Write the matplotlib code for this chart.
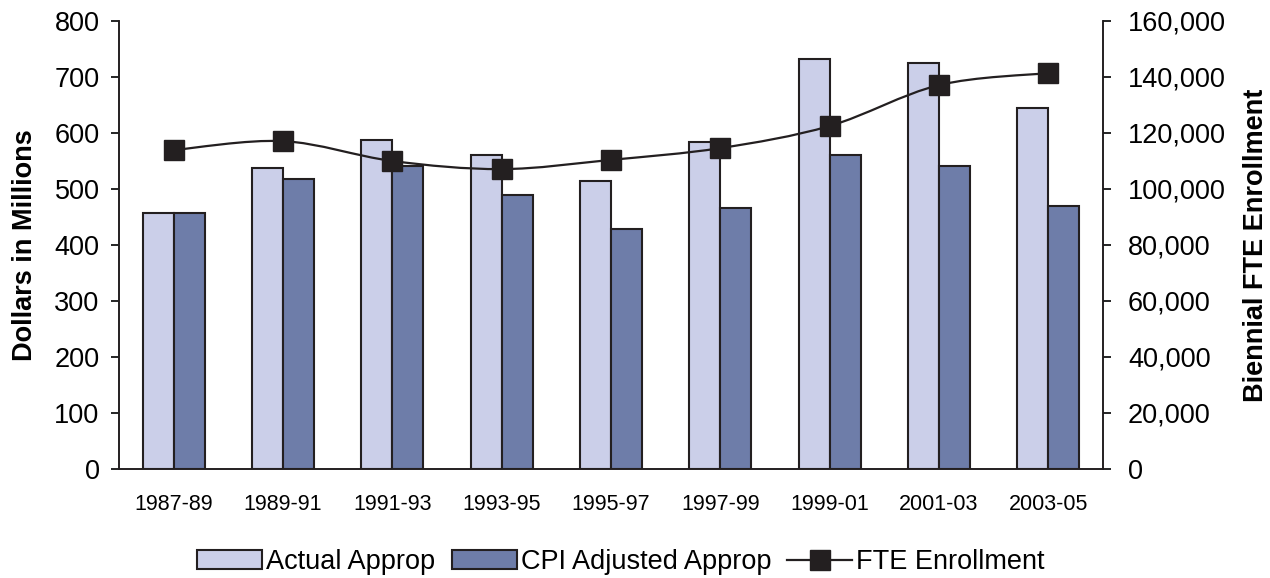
import numpy as np
import matplotlib
matplotlib.use("Agg")
import matplotlib.pyplot as plt
from matplotlib.path import Path
from matplotlib.patches import PathPatch, Patch
from matplotlib.lines import Line2D
from matplotlib.ticker import FuncFormatter

plt.rcParams['font.family'] = ['Liberation Sans', 'DejaVu Sans']

years = ["1987-89", "1989-91", "1991-93", "1993-95", "1995-97",
         "1997-99", "1999-01", "2001-03", "2003-05"]
actual = [458, 537, 587, 561, 514, 584, 732, 725, 645]
cpi_adj = [458, 518, 541, 489, 429, 466, 561, 541, 470]
fte = [113900, 117100, 110000, 107100, 110400, 114600, 122500, 137100, 141400]

c_light = "#CBCFE9"
c_dark = "#6E7DA9"
c_line = "#231F20"


def _smooth_path(xs, ys):
    """Catmull-Rom 转 Bezier，模拟 Excel 平滑线。"""
    pts = np.column_stack([xs, ys]).astype(float)
    verts = [pts[0]]
    codes = [Path.MOVETO]
    n = len(pts)
    for i in range(n - 1):
        p0 = pts[i - 1] if i > 0 else pts[i]
        p1, p2 = pts[i], pts[i + 1]
        p3 = pts[i + 2] if i + 2 < n else pts[i + 1]
        c1 = p1 + (p2 - p0) / 6.0
        c2 = p2 - (p3 - p1) / 6.0
        verts += [c1, c2, p2]
        codes += [Path.CURVE4] * 3
    return Path(verts, codes)


fig = plt.figure(figsize=(12.7, 5.78), dpi=100)
ax = fig.add_axes([0.0937, 0.1886, 0.7748, 0.7751])
ax2 = ax.twinx()

x = np.arange(len(years))
w = 0.285
ax.bar(x - w / 2, actual, w, color=c_light, edgecolor=c_line, linewidth=1.5)
ax.bar(x + w / 2, cpi_adj, w, color=c_dark, edgecolor=c_line, linewidth=1.5)

ax.set_xlim(-0.5, len(years) - 0.5)
ax.set_ylim(0, 800)
ax.set_yticks(range(0, 801, 100))
ax.set_xticks(x)
ax.set_xticklabels(years, fontsize=15.5)
ax.tick_params(axis="x", length=0, pad=18)
ax.tick_params(axis="y", labelsize=19.5, length=6, width=1.2, direction="out", pad=8)
ax.set_ylabel("Dollars in Millions", fontsize=19.5, fontweight="bold", labelpad=12)

ax2.set_ylim(0, 160000)
ax2.set_yticks(range(0, 160001, 20000))
ax2.yaxis.set_major_formatter(FuncFormatter(lambda v, p: f"{int(v):,}"))
ax2.tick_params(axis="y", labelsize=19.5, length=6, width=1.2, direction="out", pad=12)
ax2.set_ylabel("Biennial FTE Enrollment", fontsize=19.5, fontweight="bold", labelpad=12)

ax2.add_patch(PathPatch(_smooth_path(x, fte), fill=False, edgecolor=c_line, linewidth=1.6))
ax2.plot(x, fte, linestyle="none", marker="s", markersize=14, color=c_line)

for a in (ax, ax2):
    a.spines["top"].set_visible(False)
    for s in ("left", "right", "bottom"):
        a.spines[s].set_linewidth(1.2)
        a.spines[s].set_color(c_line)

handles = [
    Patch(facecolor=c_light, edgecolor=c_line, linewidth=1.5),
    Patch(facecolor=c_dark, edgecolor=c_line, linewidth=1.5),
    Line2D([], [], color=c_line, linewidth=1.6, marker="s", markersize=14),
]
fig.legend(handles, ["Actual Approp", "CPI Adjusted Approp", "FTE Enrollment"],
           loc="center", bbox_to_anchor=(0.489, 0.027), ncol=3, frameon=False,
           fontsize=19.5, handlelength=2.4, handletextpad=0.15, columnspacing=0.6)

fig.savefig("out.png", dpi=100)
